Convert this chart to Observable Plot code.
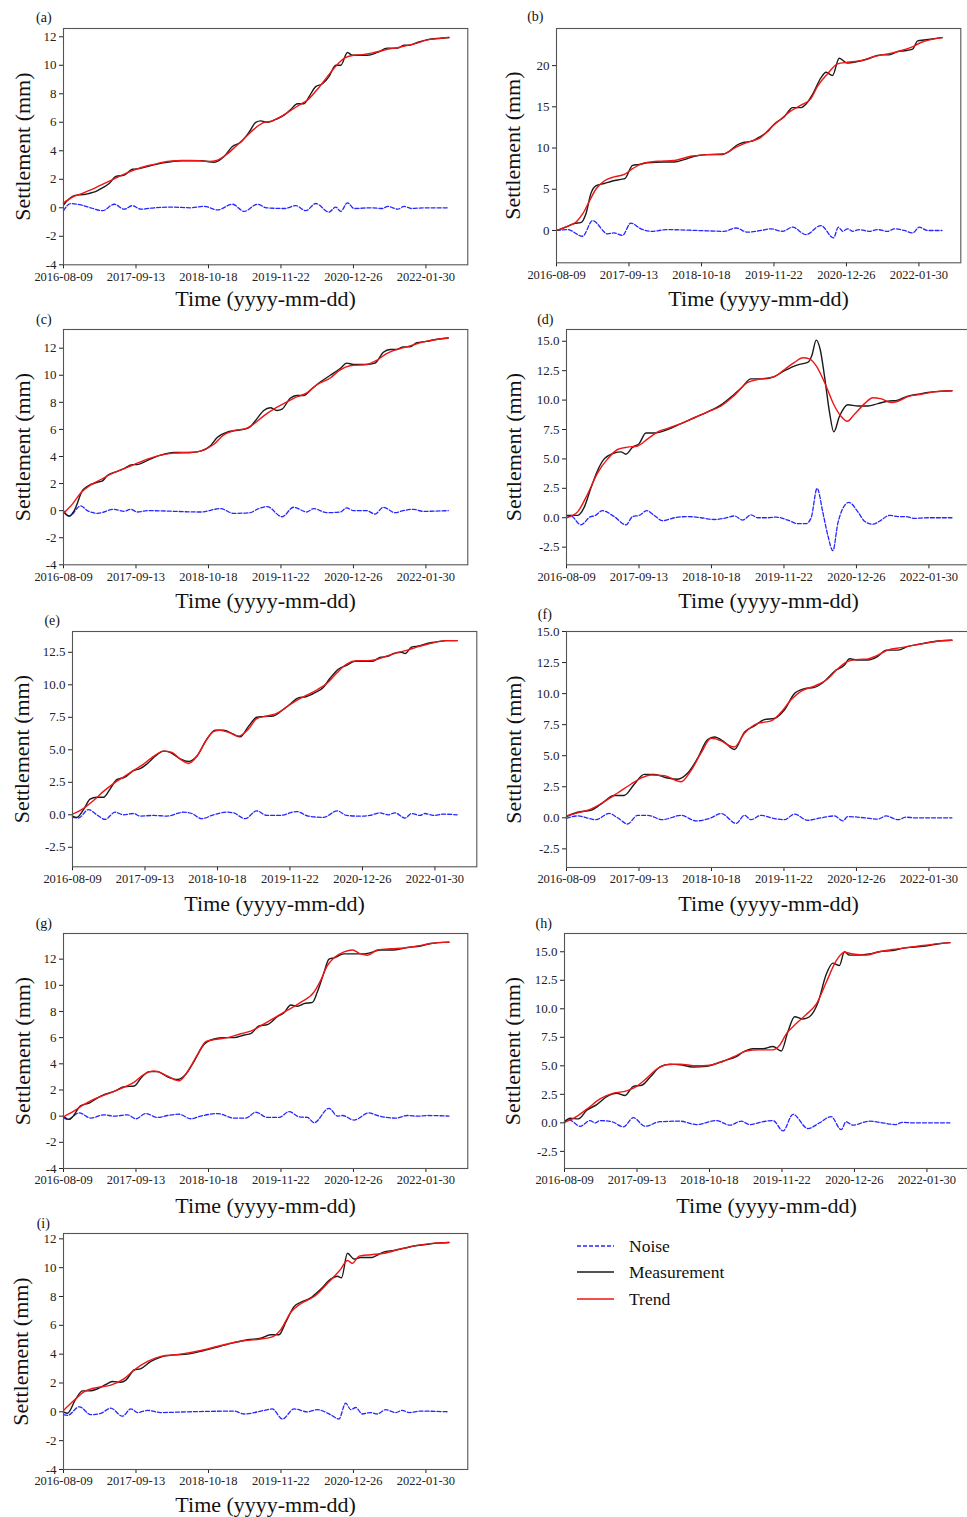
<!DOCTYPE html>
<html><head><meta charset="utf-8">
<script src="https://cdn.jsdelivr.net/npm/d3@7"></script>
<script src="https://cdn.jsdelivr.net/npm/@observablehq/plot@0.6"></script>
<style>
html,body{margin:0;padding:0;background:#fff;overflow:hidden;}
#root{position:relative;width:967px;height:1517px;overflow:hidden;font-family:"Liberation Serif","Times New Roman",serif;}
.panel{position:absolute;}
.panel g[aria-label="y-axis tick label"] text{font-size:13px;}
</style></head><body><div id="root"></div>
<script>
// ---- tick labels / categories ----
const startDate = "2016-08-09";
const xTickLabels = ["2016-08-09","2017-09-13","2018-10-18","2019-11-22","2020-12-26","2022-01-30"];
const seriesNames = ["Noise","Measurement","Trend"];
const xLabel = "Time (yyyy-mm-dd)";
const yLabel = "Settlement (mm)";

// ---- data: [days since 2016-08-09, settlement mm] ----
const a_meas = [[0,0.2],[59,0.85],[123,0.95],[188,1.2],[215,1.4],[252,1.7],[289,2.2],[335,2.3],[380,2.7],[417,2.75],[463,2.9],[550,3.15],[650,3.3],[760,3.3],[831,3.2],[886,3.6],[932,4.3],[978,4.6],[1024,5.3],[1061,6.0],[1088,6.1],[1125,6.0],[1171,6.2],[1217,6.5],[1254,6.9],[1291,7.3],[1327,7.3],[1355,7.8],[1392,8.5],[1429,8.7],[1465,9.2],[1502,10.0],[1530,10.0],[1567,10.9],[1594,10.7],[1677,10.7],[1732,10.9],[1787,11.2],[1842,11.2],[1879,11.4],[1906,11.4],[1953,11.6],[2008,11.8],[2081,11.9],[2127,11.95]];
const a_trend = [[0,0.35],[50,0.75],[100,1.0],[150,1.25],[200,1.55],[250,1.85],[300,2.15],[350,2.45],[400,2.7],[450,2.9],[500,3.05],[550,3.2],[600,3.28],[650,3.32],[700,3.32],[750,3.3],[800,3.25],[850,3.35],[900,3.75],[950,4.3],[1000,4.9],[1050,5.5],[1100,5.95],[1150,6.1],[1200,6.4],[1250,6.8],[1300,7.2],[1350,7.6],[1400,8.3],[1450,9.1],[1500,9.9],[1550,10.5],[1600,10.7],[1650,10.75],[1700,10.85],[1750,11.0],[1800,11.15],[1850,11.25],[1900,11.4],[1950,11.55],[2000,11.75],[2050,11.85],[2100,11.92],[2127,11.95]];
const a_noise = [[0,-0.2],[40,0.3],[96,0.2],[150,0.0],[215,-0.2],[280,0.25],[335,-0.1],[380,0.15],[427,-0.1],[500,0.0],[600,0.05],[700,0.0],[776,0.1],[850,-0.15],[932,0.25],[997,-0.25],[1070,0.25],[1120,0.0],[1220,-0.05],[1282,0.15],[1337,-0.2],[1392,0.3],[1465,-0.3],[1502,0.05],[1530,-0.25],[1567,0.35],[1604,-0.05],[1700,0.0],[1760,-0.05],[1790,0.1],[1845,-0.1],[1880,0.1],[1920,-0.05],[1990,0.0],[2127,0.0]];

const b_meas = [[0,0.0],[61,0.5],[98,0.85],[134,0.95],[162,2.0],[190,4.5],[217,5.4],[263,5.7],[309,6.0],[355,6.2],[377,6.3],[420,7.9],[456,8.0],[502,8.2],[594,8.3],[650,8.3],[705,8.6],[760,9.0],[833,9.2],[907,9.2],[953,9.6],[999,10.4],[1036,10.7],[1073,10.8],[1109,11.2],[1165,12.0],[1201,12.9],[1257,13.8],[1303,14.9],[1349,14.9],[1376,15.3],[1413,16.5],[1459,18.5],[1487,19.2],[1523,18.8],[1560,20.9],[1606,20.3],[1661,20.5],[1717,20.8],[1790,21.3],[1836,21.3],[1882,21.7],[1919,21.8],[1965,22.0],[1993,23.0],[2029,23.1],[2127,23.4]];
const b_trend = [[0,0.0],[61,0.5],[107,1.0],[144,2.0],[180,3.5],[217,5.0],[263,6.0],[318,6.5],[374,6.8],[420,7.5],[484,8.2],[557,8.4],[650,8.5],[741,9.0],[833,9.2],[925,9.3],[981,10.0],[1054,10.7],[1128,11.3],[1183,12.5],[1238,13.5],[1293,14.5],[1349,15.2],[1404,16.0],[1441,17.5],[1496,19.0],[1551,20.2],[1606,20.4],[1680,20.6],[1753,21.1],[1864,21.6],[1956,22.2],[2011,22.8],[2127,23.4]];
const b_noise = [[0,0.0],[61,0.1],[144,-0.7],[199,1.2],[282,-0.4],[318,-0.3],[364,-0.6],[410,0.9],[466,0.2],[521,-0.1],[613,0.1],[778,0.0],[925,-0.1],[990,0.3],[1054,-0.2],[1128,0.0],[1183,0.2],[1247,-0.1],[1303,0.4],[1376,-0.5],[1459,0.6],[1529,-0.9],[1555,0.4],[1579,-0.1],[1606,0.2],[1634,-0.1],[1671,0.1],[1726,-0.1],[1772,0.1],[1827,-0.1],[1864,0.2],[1919,0.0],[1965,-0.3],[2002,0.4],[2048,0.0],[2127,0.0]];

const c_meas = [[0,-0.1],[31,-0.4],[59,0.0],[105,1.5],[132,1.8],[187,2.1],[215,2.2],[242,2.6],[297,2.9],[334,3.1],[380,3.4],[407,3.4],[462,3.7],[536,4.1],[609,4.3],[701,4.3],[756,4.4],[811,4.8],[848,5.4],[903,5.8],[939,5.9],[994,6.0],[1031,6.2],[1068,6.8],[1105,7.4],[1141,7.6],[1178,7.4],[1206,7.5],[1251,8.3],[1288,8.5],[1325,8.5],[1371,9.0],[1417,9.5],[1472,10.0],[1527,10.5],[1563,10.9],[1600,10.8],[1673,10.8],[1719,10.9],[1765,11.7],[1802,11.9],[1839,11.9],[1875,12.1],[1912,12.1],[1949,12.4],[2004,12.5],[2040,12.6],[2123,12.75]];
const c_trend = [[0,-0.2],[50,0.5],[95,1.3],[150,1.9],[206,2.3],[261,2.7],[334,3.1],[389,3.4],[462,3.8],[536,4.1],[609,4.25],[701,4.3],[756,4.4],[830,4.9],[884,5.6],[939,5.9],[1013,6.1],[1050,6.4],[1105,7.0],[1160,7.5],[1215,7.9],[1270,8.3],[1343,8.7],[1398,9.3],[1472,9.8],[1527,10.4],[1582,10.7],[1673,10.8],[1728,11.1],[1783,11.6],[1839,11.9],[1894,12.1],[1967,12.4],[2040,12.6],[2123,12.75]];
const c_noise = [[0,0.0],[31,-0.4],[95,0.35],[132,0.0],[187,-0.2],[279,0.1],[334,-0.05],[371,0.1],[407,-0.1],[462,0.0],[756,-0.1],[866,0.15],[939,-0.2],[1031,-0.15],[1068,0.1],[1123,0.3],[1206,-0.45],[1270,0.25],[1343,-0.1],[1380,0.15],[1453,-0.15],[1527,-0.1],[1563,0.2],[1600,0.0],[1673,0.0],[1719,-0.25],[1765,0.25],[1829,-0.15],[1875,0.0],[1930,0.1],[1985,-0.05],[2123,0.0]];

const d_meas = [[0,0.2],[61,0.2],[98,0.9],[134,2.5],[171,4.0],[208,5.0],[263,5.5],[300,5.6],[328,5.4],[365,6.0],[401,6.3],[438,7.2],[484,7.2],[558,7.5],[632,8.0],[705,8.5],[779,9.0],[853,9.6],[926,10.5],[963,11.0],[1018,11.8],[1092,11.8],[1147,12.0],[1203,12.5],[1276,13.0],[1331,13.2],[1354,13.8],[1378,15.1],[1400,14.3],[1424,12.0],[1451,9.0],[1475,7.3],[1506,8.6],[1552,9.6],[1608,9.5],[1663,9.5],[1718,9.7],[1773,9.9],[1829,10.0],[1875,10.3],[1940,10.5],[1995,10.65],[2068,10.75],[2127,10.8]];
const d_trend = [[0,0.0],[61,0.5],[116,2.0],[171,3.8],[227,5.0],[282,5.8],[337,6.0],[392,6.1],[448,6.7],[503,7.3],[558,7.6],[632,8.0],[705,8.5],[779,9.0],[853,9.5],[926,10.4],[1000,11.5],[1074,11.8],[1147,12.0],[1203,12.6],[1258,13.2],[1304,13.6],[1341,13.5],[1378,12.9],[1424,11.5],[1479,9.5],[1516,8.6],[1549,8.2],[1589,8.8],[1645,9.7],[1691,10.2],[1737,10.1],[1792,9.8],[1829,9.9],[1884,10.3],[1958,10.5],[2031,10.7],[2127,10.8]];
const d_noise = [[0,0.0],[24,0.15],[79,-0.6],[134,0.1],[153,0.15],[199,0.6],[263,0.1],[328,-0.6],[365,0.1],[401,0.2],[444,0.6],[484,0.2],[530,-0.25],[595,0.0],[669,0.1],[742,0.0],[816,-0.15],[871,-0.05],[926,0.15],[972,-0.2],[1018,0.25],[1055,0.0],[1110,0.0],[1157,0.05],[1221,-0.2],[1276,-0.5],[1322,-0.5],[1350,0.0],[1383,2.5],[1414,0.5],[1442,-1.5],[1470,-2.8],[1497,-0.5],[1525,0.8],[1558,1.3],[1608,0.5],[1645,-0.3],[1691,-0.55],[1727,-0.3],[1783,0.2],[1829,0.1],[1866,0.1],[1921,-0.05],[1995,0.0],[2127,0.0]];

const e_meas = [[0,-0.1],[24,-0.2],[61,0.4],[97,1.2],[134,1.35],[171,1.35],[208,2.0],[244,2.7],[290,2.9],[336,3.4],[373,3.55],[410,3.9],[456,4.5],[502,4.9],[539,4.8],[594,4.3],[640,4.1],[686,4.5],[741,5.8],[787,6.5],[833,6.5],[888,6.2],[925,6.0],[971,6.8],[1017,7.5],[1053,7.55],[1108,7.6],[1154,8.0],[1200,8.5],[1246,9.0],[1292,9.1],[1338,9.4],[1384,9.8],[1421,10.5],[1467,11.2],[1513,11.5],[1559,11.8],[1605,11.8],[1651,11.8],[1696,12.1],[1742,12.2],[1770,12.4],[1816,12.5],[1835,12.4],[1871,12.9],[1917,13.0],[1963,13.2],[2010,13.3],[2066,13.4],[2123,13.4]];
const e_trend = [[0,0.05],[61,0.5],[116,1.1],[171,1.8],[226,2.4],[281,2.9],[336,3.4],[392,3.9],[447,4.5],[502,4.9],[548,4.8],[603,4.2],[640,3.95],[686,4.5],[732,5.6],[778,6.4],[814,6.5],[869,6.3],[915,6.05],[971,6.6],[1017,7.4],[1072,7.6],[1127,7.8],[1182,8.3],[1237,8.8],[1292,9.2],[1347,9.6],[1403,10.1],[1458,10.9],[1513,11.6],[1568,11.85],[1623,11.85],[1678,11.95],[1733,12.2],[1789,12.45],[1844,12.65],[1899,12.9],[1954,13.1],[2010,13.3],[2066,13.4],[2123,13.4]];
const e_noise = [[0,-0.2],[33,-0.25],[88,0.4],[134,0.0],[180,-0.35],[235,0.2],[281,0.0],[336,0.1],[373,-0.1],[447,-0.05],[520,-0.1],[612,0.2],[658,0.1],[713,-0.3],[778,0.0],[851,0.2],[888,0.15],[952,-0.3],[1017,0.3],[1072,-0.05],[1145,-0.05],[1237,0.25],[1301,-0.1],[1384,-0.2],[1461,0.3],[1513,-0.05],[1586,-0.1],[1640,-0.05],[1696,0.15],[1742,0.0],[1779,0.15],[1835,-0.25],[1871,0.1],[1917,-0.05],[1945,0.1],[1991,-0.05],[2046,0.05],[2123,0.0]];

const f_meas = [[0,0.1],[61,0.45],[134,0.6],[190,1.1],[263,1.8],[318,1.8],[374,2.7],[429,3.5],[484,3.5],[558,3.2],[613,3.1],[669,3.6],[724,4.8],[779,6.3],[816,6.5],[871,6.1],[926,5.5],[982,6.9],[1037,7.4],[1092,7.9],[1147,8.0],[1203,8.7],[1258,10.0],[1313,10.4],[1368,10.5],[1424,11.0],[1479,11.8],[1534,12.3],[1562,12.8],[1608,12.7],[1663,12.7],[1718,13.0],[1764,13.5],[1829,13.5],[1884,13.8],[1958,14.0],[2031,14.2],[2127,14.3]];
const f_trend = [[0,0.15],[61,0.4],[134,0.7],[208,1.3],[282,2.0],[355,2.7],[411,3.2],[466,3.45],[540,3.4],[604,3.0],[632,2.9],[687,3.8],[742,5.2],[798,6.4],[853,6.2],[899,5.8],[926,5.7],[982,6.8],[1055,7.6],[1129,7.8],[1184,8.5],[1239,9.5],[1295,10.2],[1368,10.6],[1442,11.2],[1497,12.0],[1552,12.6],[1608,12.75],[1663,12.8],[1718,13.1],[1773,13.5],[1847,13.7],[1921,13.9],[1995,14.1],[2068,14.25],[2127,14.3]];
const f_noise = [[0,-0.05],[61,0.15],[162,-0.15],[236,0.35],[282,0.0],[337,-0.5],[392,0.2],[448,0.2],[530,-0.15],[632,0.2],[715,-0.25],[798,0.0],[853,0.35],[937,-0.45],[982,0.2],[1018,-0.15],[1074,0.2],[1129,0.0],[1203,-0.15],[1258,0.3],[1331,-0.2],[1405,0.0],[1479,0.15],[1525,-0.25],[1552,0.1],[1645,0.0],[1718,-0.1],[1764,0.15],[1829,-0.15],[1875,0.05],[1921,0.0],[2127,0.0]];

const g_meas = [[0,0.0],[31,-0.25],[96,0.8],[142,1.0],[188,1.4],[234,1.7],[280,1.9],[335,2.25],[390,2.3],[427,2.9],[473,3.4],[519,3.4],[574,3.0],[629,2.8],[675,3.2],[721,4.2],[776,5.5],[831,5.9],[886,6.0],[941,6.0],[997,6.2],[1033,6.3],[1079,6.9],[1125,7.0],[1180,7.6],[1217,7.9],[1254,8.5],[1291,8.4],[1327,8.6],[1374,8.7],[1401,9.5],[1438,11.0],[1465,12.0],[1493,12.1],[1548,12.4],[1603,12.4],[1658,12.4],[1695,12.5],[1750,12.7],[1824,12.7],[1898,12.9],[1971,13.0],[2026,13.2],[2127,13.3]];
const g_trend = [[0,-0.05],[59,0.4],[114,0.9],[169,1.3],[243,1.7],[316,2.1],[390,2.6],[445,3.2],[500,3.45],[555,3.2],[611,2.8],[638,2.7],[684,3.4],[739,4.7],[785,5.7],[831,5.85],[905,6.0],[978,6.3],[1033,6.5],[1088,6.9],[1162,7.5],[1236,8.1],[1309,8.7],[1383,9.5],[1420,10.4],[1456,11.5],[1493,12.1],[1548,12.55],[1594,12.7],[1640,12.4],[1677,12.3],[1732,12.7],[1806,12.8],[1879,12.85],[1953,13.0],[2026,13.2],[2127,13.3]];
const g_noise = [[0,-0.1],[22,-0.25],[87,0.25],[151,-0.15],[224,0.1],[280,0.0],[353,0.1],[399,-0.2],[454,0.2],[519,-0.1],[574,0.05],[638,0.15],[702,-0.2],[757,0.0],[850,0.2],[941,-0.15],[1006,-0.15],[1061,0.3],[1125,-0.1],[1190,-0.1],[1245,0.35],[1300,-0.05],[1346,-0.1],[1383,-0.5],[1465,0.6],[1512,0.0],[1539,0.05],[1603,-0.3],[1686,0.25],[1732,0.05],[1833,-0.15],[1898,0.05],[1953,0.0],[2008,0.05],[2127,0.0]];

const h_meas = [[0,0.1],[31,0.4],[77,0.35],[123,1.1],[178,1.6],[233,2.3],[288,2.6],[334,2.4],[380,3.2],[426,3.3],[472,4.0],[527,4.9],[582,5.15],[637,5.1],[710,4.9],[783,4.95],[838,5.2],[893,5.5],[948,5.8],[985,6.2],[1040,6.5],[1095,6.5],[1150,6.7],[1196,6.3],[1233,8.0],[1270,9.3],[1316,9.1],[1352,9.3],[1398,10.5],[1444,13.0],[1481,14.0],[1517,13.8],[1545,15.0],[1572,14.7],[1627,14.7],[1682,14.8],[1736,15.0],[1809,15.1],[1864,15.3],[1919,15.4],[1993,15.5],[2066,15.7],[2127,15.8]];
const h_trend = [[0,0.05],[50,0.4],[123,1.2],[196,2.1],[270,2.6],[343,2.8],[398,3.2],[453,3.9],[508,4.7],[563,5.1],[637,5.15],[728,5.0],[802,5.05],[875,5.4],[948,5.9],[1002,6.3],[1076,6.4],[1150,6.4],[1187,6.8],[1224,7.8],[1279,8.7],[1334,9.5],[1389,10.4],[1444,12.3],[1499,14.2],[1545,14.95],[1590,14.8],[1664,14.7],[1736,15.0],[1809,15.2],[1883,15.35],[1956,15.5],[2029,15.65],[2127,15.8]];
const h_noise = [[0,0.0],[22,0.3],[86,-0.3],[141,0.2],[169,0.0],[196,0.2],[261,0.1],[325,-0.35],[380,0.45],[444,-0.3],[527,0.1],[637,0.15],[728,-0.15],[838,0.2],[912,-0.2],[976,0.15],[1022,-0.15],[1095,0.1],[1150,0.2],[1206,-0.7],[1261,0.75],[1343,-0.5],[1407,0.0],[1471,0.55],[1527,-0.6],[1554,0.1],[1590,-0.2],[1682,0.15],[1755,0.0],[1828,-0.15],[1864,0.05],[1919,0.0],[2127,0.0]];

const i_meas = [[0,0.0],[22,-0.1],[68,0.9],[105,1.45],[142,1.45],[188,1.6],[234,1.9],[270,2.1],[316,2.05],[344,2.2],[390,2.9],[427,3.0],[482,3.5],[537,3.8],[611,3.95],[684,4.0],[758,4.2],[850,4.5],[941,4.8],[1015,5.0],[1088,5.1],[1143,5.35],[1189,5.35],[1226,6.2],[1272,7.3],[1309,7.6],[1364,7.9],[1419,8.5],[1474,9.2],[1512,9.4],[1534,9.3],[1567,11.0],[1603,10.6],[1640,10.7],[1695,10.7],[1769,11.1],[1824,11.2],[1879,11.35],[1934,11.5],[1998,11.6],[2063,11.7],[2127,11.75]];
const i_trend = [[0,0.1],[59,0.8],[114,1.4],[188,1.7],[261,1.85],[335,2.3],[390,2.9],[464,3.5],[537,3.85],[647,4.0],[758,4.25],[868,4.6],[978,4.9],[1088,5.05],[1152,5.2],[1199,5.7],[1254,6.9],[1309,7.5],[1383,8.0],[1456,8.9],[1530,9.9],[1567,10.5],[1594,10.3],[1631,10.8],[1695,10.9],[1769,11.0],[1861,11.3],[1953,11.55],[2045,11.7],[2127,11.75]];
const i_noise = [[0,-0.2],[22,-0.25],[87,0.35],[151,-0.2],[206,-0.1],[261,0.25],[325,-0.3],[372,0.2],[409,-0.05],[464,0.1],[537,-0.05],[684,0.0],[941,0.05],[997,-0.15],[1107,0.1],[1152,0.2],[1208,-0.5],[1272,0.2],[1346,0.0],[1401,0.15],[1474,-0.2],[1520,-0.5],[1557,0.6],[1585,0.15],[1613,0.3],[1649,-0.15],[1695,-0.05],[1732,-0.15],[1778,0.15],[1833,-0.05],[1870,0.1],[1906,-0.05],[1971,0.05],[2127,0.0]];

// ---- helpers ----
const parse = d3.utcParse("%Y-%m-%d");
const t0 = parse(startDate);
const toDate = d => new Date(+t0 + d * 864e5);
const xTicks = xTickLabels.map(parse);
const xEnd = toDate(2231);
const FW = 404.3;

const intT = [-4,-2,0,2,4,6,8,10,12];
const decT = [-2.5,0,2.5,5,7.5,10,12.5,15];
const panels = [
 {id:"(a)", n:a_noise, m:a_meas, t:a_trend, fl:62.7, ft:27.7, fb:264, yd:[-4,12.58], yt:intT, dec:false, ylx:22, xly:298, lx:43, ly:17},
 {id:"(b)", n:b_noise, m:b_meas, t:b_trend, fl:555.7, ft:27.7, fb:262, yd:[-3.92,24.5], yt:[0,5,10,15,20], dec:false, ylx:512, xly:298, lx:534.5, ly:16},
 {id:"(c)", n:c_noise, m:c_meas, t:c_trend, fl:62.7, ft:329, fb:564.3, yd:[-4,13.38], yt:intT, dec:false, ylx:22, xly:600, lx:43, ly:319},
 {id:"(d)", n:d_noise, m:d_meas, t:d_trend, fl:565.7, ft:329, fb:564.3, yd:[-4,16], yt:decT, dec:true, ylx:513, xly:600, lx:544.5, ly:319},
 {id:"(e)", n:e_noise, m:e_meas, t:e_trend, fl:72.3, ft:630.7, fb:866, yd:[-4,14.1], yt:decT.slice(0,7), dec:true, ylx:22, xly:903, lx:52, ly:620},
 {id:"(f)", n:f_noise, m:f_meas, t:f_trend, fl:565.7, ft:630.7, fb:866.7, yd:[-4,15], yt:decT, dec:true, ylx:513, xly:903, lx:544, ly:614},
 {id:"(g)", n:g_noise, m:g_meas, t:g_trend, fl:62.7, ft:932.7, fb:1167.7, yd:[-4,13.96], yt:intT, dec:false, ylx:22, xly:1205, lx:43, ly:923},
 {id:"(h)", n:h_noise, m:h_meas, t:h_trend, fl:564.3, ft:932.7, fb:1167.7, yd:[-4,16.6], yt:decT, dec:true, ylx:513, xly:1205, lx:543.5, ly:923},
 {id:"(i)", n:i_noise, m:i_meas, t:i_trend, fl:62.7, ft:1233.3, fb:1469.3, yd:[-4,12.37], yt:intT, dec:false, ylx:20, xly:1505, lx:42.5, ly:1223}
];

const COLORS = {Noise:"#2626ff", Measurement:"#1a1a1a", Trend:"#f01414"};
const rows = (arr, s) => arr.map(([d, v]) => ({date: toDate(d), value: v, series: s}));
const root = document.getElementById("root");
const ML = 75, MR = 10, MT = 22, MB = 50;

for (const p of panels) {
  const H = p.fb - p.ft;
  const fmt = p.dec ? (v => v.toFixed(1)) : (v => String(v));
  const chart = Plot.plot({
    width: FW + ML + MR, height: H + MT + MB,
    marginLeft: ML, marginRight: MR, marginTop: MT, marginBottom: MB,
    style: {fontFamily: "'Liberation Serif', 'Times New Roman', serif", fontSize: "12.5px", color: "#222", background: "transparent", overflow: "visible"},
    x: {type: "utc", domain: [t0, xEnd], ticks: xTicks, tickFormat: d3.utcFormat("%Y-%m-%d"), tickSize: 4, tickPadding: 3, label: null},
    y: {domain: p.yd, ticks: p.yt, tickFormat: fmt, tickSize: 4, tickPadding: 3, label: null},
    marks: [
      Plot.line(rows(p.n, seriesNames[0]), {x: "date", y: "value", stroke: COLORS.Noise, strokeWidth: 1.3, strokeDasharray: "4,2", curve: "monotone-x"}),
      Plot.line(rows(p.m, seriesNames[1]), {x: "date", y: "value", stroke: COLORS.Measurement, strokeWidth: 1.4, curve: "monotone-x"}),
      Plot.line(rows(p.t, seriesNames[2]), {x: "date", y: "value", stroke: COLORS.Trend, strokeWidth: 1.4, curve: "monotone-x"}),
      Plot.frame({stroke: "#555", strokeWidth: 1.1}),
      Plot.text([yLabel], {frameAnchor: "left", text: d => d, rotate: -90, dx: p.ylx - p.fl, fontSize: 22, textAnchor: "middle", lineAnchor: "middle", fill: "#111"}),
      Plot.text([xLabel], {frameAnchor: "bottom", text: d => d, dy: p.xly - p.fb, fontSize: 22, textAnchor: "middle", lineAnchor: "middle", fill: "#111"}),
      Plot.text([p.id], {frameAnchor: "top-left", text: d => d, dx: p.lx - p.fl, dy: p.ly - p.ft, fontSize: 14, textAnchor: "middle", lineAnchor: "middle", fill: "#111"})
    ]
  });
  chart.classList.add("panel");
  chart.style.left = (p.fl - ML) + "px";
  chart.style.top = (p.ft - MT) + "px";
  root.appendChild(chart);
}

// ---- legend ----
const ns = "http://www.w3.org/2000/svg";
const leg = document.createElementNS(ns, "svg");
leg.setAttribute("width", 220); leg.setAttribute("height", 90);
leg.style.position = "absolute"; leg.style.left = "570px"; leg.style.top = "1230px";
const legY = [16, 42, 69];
seriesNames.forEach((s, i) => {
  const ln = document.createElementNS(ns, "line");
  ln.setAttribute("x1", 7); ln.setAttribute("x2", 44);
  ln.setAttribute("y1", legY[i]); ln.setAttribute("y2", legY[i]);
  ln.setAttribute("stroke", COLORS[s]); ln.setAttribute("stroke-width", 1.3);
  if (s === "Noise") ln.setAttribute("stroke-dasharray", "4,2");
  leg.appendChild(ln);
  const tx = document.createElementNS(ns, "text");
  tx.setAttribute("x", 59); tx.setAttribute("y", legY[i]);
  tx.setAttribute("dy", "0.35em");
  tx.setAttribute("font-family", "'Liberation Serif', 'Times New Roman', serif");
  tx.setAttribute("font-size", "17.5");
  tx.setAttribute("fill", "#111");
  tx.textContent = s;
  leg.appendChild(tx);
});
root.appendChild(leg);
</script></body></html>
